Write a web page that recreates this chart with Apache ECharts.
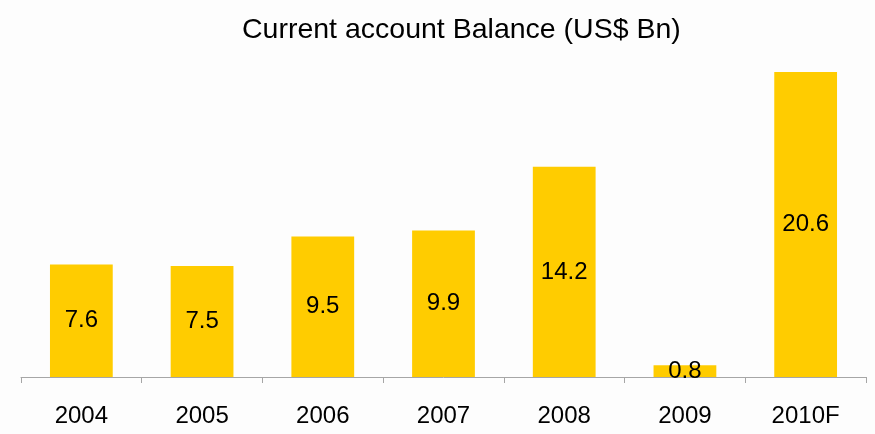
<!DOCTYPE html>
<html>
<head>
<meta charset="utf-8">
<script src="https://cdn.jsdelivr.net/npm/echarts@6/dist/echarts.min.js"></script>
<style>
  html, body { margin: 0; padding: 0; background: #fdfdfd; }
  #chart { width: 875px; height: 434px; }
</style>
</head>
<body>
<div id="chart"></div>
<script>
// Current account balance, US$ billions
const years = ['2004', '2005', '2006', '2007', '2008', '2009', '2010F'];
const balance = [7.6, 7.5, 9.5, 9.9, 14.2, 0.8, 20.6];

const chart = echarts.init(document.getElementById('chart'));
chart.setOption({
  backgroundColor: '#fdfdfd',
  animation: false,
  title: {
    text: 'Current account Balance (US$ Bn)',
    left: 237,
    top: 11,
    textStyle: {
      fontFamily: 'Liberation Sans',
      fontSize: 28.5,
      fontWeight: 'normal',
      color: '#000'
    }
  },
  grid: { left: 21, right: 9, top: 7, bottom: 57 },
  xAxis: {
    type: 'category',
    data: years,
    axisLine: { lineStyle: { color: '#a6a6a6', width: 1 } },
    axisTick: { show: true, length: 6, lineStyle: { color: '#a6a6a6' } },
    axisLabel: {
      margin: 27,
      fontFamily: 'Liberation Sans',
      fontSize: 24,
      color: '#000'
    }
  },
  yAxis: {
    type: 'value',
    min: 0,
    max: 25,
    show: false,
    splitLine: { show: false }
  },
  series: [{
    type: 'bar',
    data: balance,
    barWidth: '52%',
    itemStyle: { color: '#ffcc00' },
    label: {
      show: true,
      position: 'inside',
      fontFamily: 'Liberation Sans',
      fontSize: 24,
      color: '#000',
      formatter: p => p.value.toFixed(1)
    }
  }]
});
</script>
</body>
</html>
